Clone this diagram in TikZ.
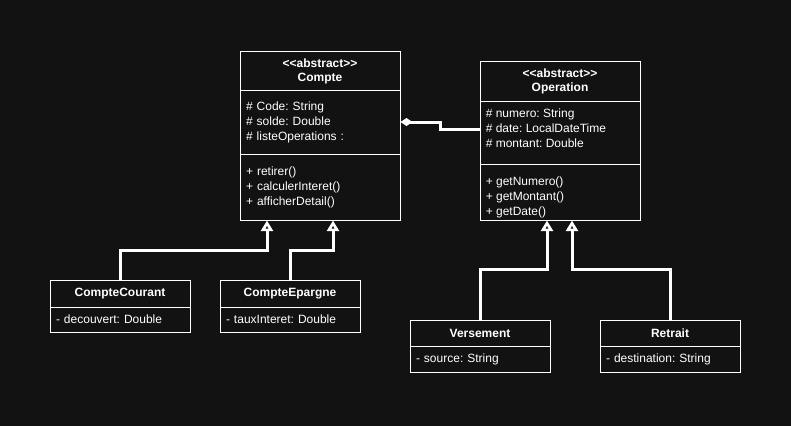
\documentclass[tikz,border=0pt]{standalone}
\usepackage{fontspec}
\setmainfont{Liberation Sans}
\usetikzlibrary{arrows.meta,calc}
\definecolor{bgc}{RGB}{18,18,18}
\tikzset{
  classhead/.style={draw=white, line width=0.75pt, fill=bgc, text=white, align=center,
    font=\fontsize{9pt}{10.5pt}\selectfont\bfseries, minimum width=120pt, inner sep=0pt},
  classbody/.style={draw=white, line width=0.75pt, fill=bgc, text=white, align=left,
    font=\fontsize{9pt}{11.25pt}\selectfont, minimum width=120pt, text width=111pt,
    inner xsep=4.5pt, inner ysep=0pt},
  classtext/.style={text=white, align=left, font=\fontsize{9pt}{11.25pt}\selectfont,
    inner xsep=4.5pt, inner ysep=9.75pt},
  small/.style={minimum width=105pt, text width=96pt},
  inherit/.style={draw=white, line width=2.25pt, -{Triangle[open, length=8pt, width=9pt]}},
  compose/.style={draw=white, line width=2.25pt, {Diamond[length=9pt, width=6pt]}-},
}
\begin{document}
\frenchspacing
\begin{tikzpicture}[x=0.75pt, y=-0.75pt]
          \fill[bgc] (0,0) rectangle (791,426);
          \useasboundingbox (0,0) rectangle (791,426);
          \node[classhead, minimum height=30pt] at (320,71) (CompteT) {{<}{<}abstract{>}{>}\\Compte};
          \node[classbody, minimum height=48pt] at (320,122) (CompteA) {\# Code: String\\\# solde: Double\\\# listeOperations :};
          \node[classbody, minimum height=49.5pt] at (320,187) (CompteM) {+ retirer()\\+ calculerInteret()\\+ afficherDetail()};
          \node[classhead, minimum height=30pt] at (560,81) (OperationT) {{<}{<}abstract{>}{>}\\Operation};
          \node[classbody, minimum height=47.25pt, label={[classtext, inner ysep=6pt, anchor=north west]north west:{\# numero: String\\\# date: LocalDateTime\\\# montant: Double}}] at (560,132.5) (OperationA) {};
          \node[classbody, minimum height=42pt, label={[classtext, anchor=north west]north west:{+ getNumero()\\+ getMontant()\\+ getDate()}}] at (560,192) (OperationM) {};
          \node[classhead, small, minimum height=20.25pt] at (120,293.5) (CCT) {CompteCourant};
          \node[classbody, small, minimum height=18.75pt] at (120,319.5) (CCA) {- decouvert: Double};
          \node[classhead, small, minimum height=20.25pt] at (290,293.5) (CET) {CompteEpargne};
          \node[classbody, small, minimum height=18.75pt] at (290,319.5) (CEA) {- tauxInteret: Double};
          \node[classhead, small, minimum height=19.5pt] at (480,333) (VersT) {Versement};
          \node[classbody, small, minimum height=19.5pt] at (480,359) (VersA) {- source: String};
          \node[classhead, small, minimum height=19.5pt] at (670,333) (RetT) {Retrait};
          \node[classbody, small, minimum height=19.5pt] at (670,359) (RetA) {- destination: String};
          \draw[compose] (CompteA.east) -- ++(40,0) |- ([yshift=2.6pt]OperationA.west);
          \draw[inherit] (CCT.north) -- ++(0,-29) -| ($(CompteM.south)+(-53,0)$);
          \draw[inherit] (CET.north) -- ++(0,-29) -| ($(CompteM.south)+(13,0)$);
          \draw[inherit] (VersT.north) -- ++(0,-50) -| ($(OperationM.south)+(-13,0)$);
          \draw[inherit] (RetT.north) -- ++(0,-50) -| ($(OperationM.south)+(12,0)$);
        \end{tikzpicture}
\end{document}
